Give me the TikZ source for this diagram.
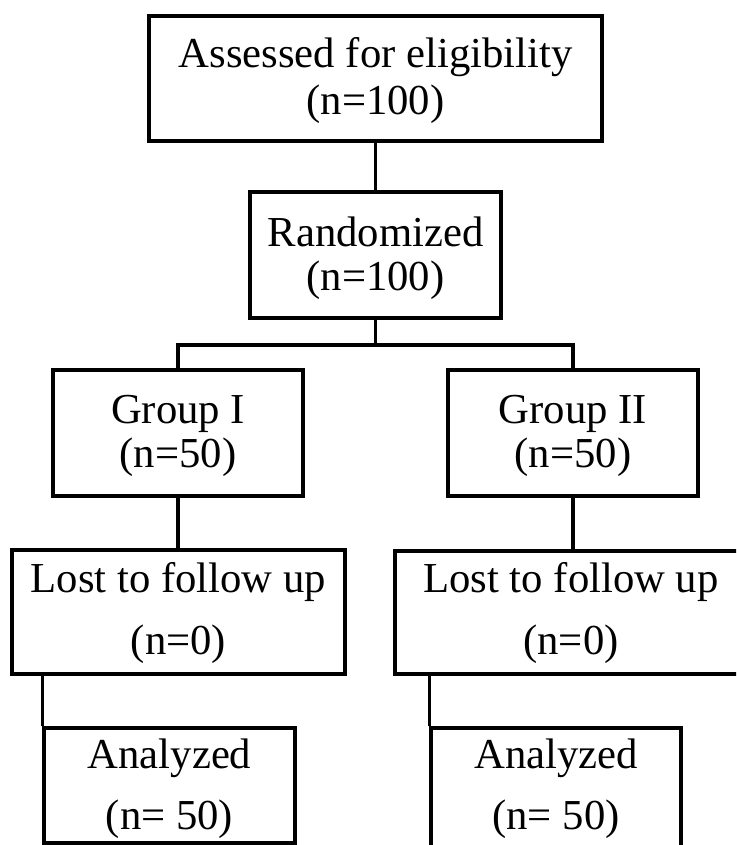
\documentclass[tikz,border=0pt]{standalone}
\usepackage{fontspec}
\setmainfont{Liberation Serif}
\begin{document}
\begin{tikzpicture}[x=1pt,y=-1pt,
  box/.style={draw,line width=3.5pt,inner sep=0pt},
  conn/.style={line width=3.5pt},
  txt/.style={anchor=base,inner sep=0pt,font=\fontsize{42.7}{48}\selectfont}]
\useasboundingbox (0,0) rectangle (736,845);
\clip (0,0) rectangle (736,845);
% boxes
\node[box,minimum width=453pt,minimum height=125pt] (a) at (375.5,78.5) {};
\node[box,minimum width=251pt,minimum height=126pt] (b) at (375.5,255) {};
\node[box,minimum width=250pt,minimum height=126pt] (g1) at (178,433) {};
\node[box,minimum width=250pt,minimum height=126pt] (g2) at (573,433) {};
\node[box,minimum width=333pt,minimum height=124pt] (l1) at (178.5,612) {};
\node[box,minimum width=354pt,minimum height=123pt] (l2) at (572,612.5) {};
\node[box,minimum width=251pt,minimum height=115pt] (n1) at (169.5,785.5) {};
\node[box,minimum width=250pt,minimum height=124pt] (n2) at (556,790) {};
% texts
\node[txt] (a1) at (375.5,68) {Assessed for eligibility};
\node[txt] (a2) at (375.5,115) {(n=100)};
\node[txt] (b1) at (375.5,246) {Randomized};
\node[txt] (b2) at (375.5,290) {(n=100)};
\node[txt] (g1a) at (178,423) {Group I};
\node[txt] (g1b) at (178,467) {(n=50)};
\node[txt] (g2a) at (573,423) {Group II};
\node[txt] (g2b) at (573,467) {(n=50)};
\node[txt] (l1a) at (178.5,592) {Lost to follow up};
\node[txt] (l1b) at (178.5,654) {(n=0)};
\node[txt] (l2a) at (571,592) {Lost to follow up};
\node[txt] (l2b) at (571,654) {(n=0)};
\node[txt] (n1a) at (169.5,768) {Analyzed};
\node[txt] (n1b) at (169.5,829) {(n= 50)};
\node[txt] (n2a) at (556,768) {Analyzed};
\node[txt] (n2b) at (556,829) {(n= 50)};
% connectors
\coordinate (split) at (375.5,345);
\draw[conn] (a.south) -- (b.north);
\draw[conn] (b.south) -- (split);
\draw[conn] (g1.north) |- (split) -| (g2.north);
\draw[conn] (g1.south) -- (g1.south |- l1.north);
\draw[conn] (g2.south) -- (g2.south |- l2.north);
\draw[conn] (n1.north west) -- (n1.north west |- l1.south);
\draw[conn] (n2.north west) -- (n2.north west |- l2.south);
\end{tikzpicture}
\end{document}
